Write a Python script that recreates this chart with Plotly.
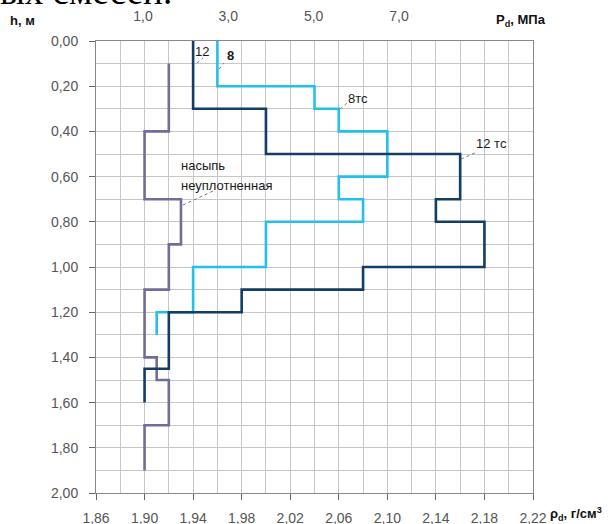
import plotly.graph_objects as go

# ---------------- data ----------------
# depth boundaries (m) and dry density per layer (g/cm3)
fill_top = [0.1, 0.4, 0.7, 0.9, 1.1, 1.4, 1.5, 1.7]
fill_bot = [0.4, 0.7, 0.9, 1.1, 1.4, 1.5, 1.7, 1.9]
fill_rho = [1.92, 1.90, 1.93, 1.92, 1.90, 1.91, 1.92, 1.90]

t8_top = [0.0, 0.2, 0.3, 0.4, 0.6, 0.7, 0.8, 1.0, 1.2]
t8_bot = [0.2, 0.3, 0.4, 0.6, 0.7, 0.8, 1.0, 1.2, 1.3]
t8_rho = [1.96, 2.04, 2.06, 2.10, 2.06, 2.08, 2.00, 1.94, 1.91]

t12_top = [0.0, 0.3, 0.5, 0.7, 0.8, 1.0, 1.1, 1.2, 1.45]
t12_bot = [0.3, 0.5, 0.7, 0.8, 1.0, 1.1, 1.2, 1.45, 1.6]
t12_rho = [1.94, 2.00, 2.16, 2.14, 2.18, 2.08, 1.98, 1.92, 1.90]

h_ticks = [0.0, 0.2, 0.4, 0.6, 0.8, 1.0, 1.2, 1.4, 1.6, 1.8, 2.0]
h_labels = ["0,00", "0,20", "0,40", "0,60", "0,80", "1,00", "1,20", "1,40", "1,60", "1,80", "2,00"]
rho_ticks = [1.86, 1.90, 1.94, 1.98, 2.02, 2.06, 2.10, 2.14, 2.18, 2.22]
rho_labels = ["1,86", "1,90", "1,94", "1,98", "2,02", "2,06", "2,10", "2,14", "2,18", "2,22"]
p_ticks = [1.0, 3.0, 5.0, 7.0]
p_labels = ["1,0", "3,0", "5,0", "7,0"]

# ---------------- layout geometry ----------------
W, H = 615, 524
L, R, T, B = 96, 533, 41, 493


def step_xy(tops, bots, vals):
    xs, ys = [], []
    for t, b, v in zip(tops, bots, vals):
        xs += [v, v]
        ys += [t, b]
    return xs, ys


def px(xpix):
    return (xpix - L) / (R - L)


def py(ypix):
    return (B - ypix) / (B - T)


fig = go.Figure()

series = [
    (fill_top, fill_bot, fill_rho, "#726c98", "насыпь неуплотненная"),
    (t8_top, t8_bot, t8_rho, "#22c0ea", "8 тс"),
    (t12_top, t12_bot, t12_rho, "#123d66", "12 тс"),
]
for tops, bots, vals, col, name in series:
    xs, ys = step_xy(tops, bots, vals)
    fig.add_trace(go.Scatter(x=xs, y=ys, mode="lines", name=name,
                             line=dict(color=col, width=2.6), showlegend=False))

# invisible trace for top pressure axis
fig.add_trace(go.Scatter(x=[p_ticks[0]], y=[0], xaxis="x2", mode="markers",
                         marker=dict(opacity=0), showlegend=False, hoverinfo="skip"))

tickfont = dict(family="Liberation Sans, Arial", size=14, color="#555555")
grid = "#c6c6c6"

fig.update_layout(
    width=W, height=H,
    margin=dict(l=L, r=W - R, t=T, b=H - B, pad=0),
    paper_bgcolor="white", plot_bgcolor="white",
    xaxis=dict(range=[1.86, 2.22], tickvals=rho_ticks, ticktext=rho_labels,
               ticks="outside", ticklen=6, tickcolor="#666", tickwidth=1,
               showgrid=True, gridcolor=grid, gridwidth=1,
               minor=dict(dtick=0.02, tick0=1.86, showgrid=True, gridcolor=grid, gridwidth=1),
               showline=True, linecolor="#888", linewidth=1, mirror=True,
               zeroline=False, tickfont=tickfont, ticklabelstandoff=6, automargin=False),
    yaxis=dict(range=[2.0, 0.0], tickvals=h_ticks, ticktext=h_labels,
               ticks="outside", ticklen=6, tickcolor="#666", tickwidth=1,
               showgrid=True, gridcolor=grid, gridwidth=1,
               minor=dict(dtick=0.1, tick0=0, showgrid=True, gridcolor=grid, gridwidth=1),
               showline=True, linecolor="#888", linewidth=1, mirror=True,
               zeroline=False, tickfont=tickfont, ticklabelstandoff=8, automargin=False),
    xaxis2=dict(overlaying="x", side="top", range=[-0.10, 10.14],
                tickvals=p_ticks, ticktext=p_labels, ticks="outside", ticklen=13,
                tickcolor="rgba(0,0,0,0)", showgrid=False, showline=False,
                zeroline=False, tickfont=tickfont, automargin=False),
)

ann_font = dict(family="Liberation Sans, Arial", size=13, color="#1a1a1a")
bold_font = dict(family="Liberation Sans, Arial", size=13, color="#111111")
annotations = [
    dict(x=px(8), y=py(20), text="<b>h, м</b>", xanchor="left", yanchor="middle", font=bold_font),
    dict(x=px(494), y=py(20), text="<b>P<sub>d</sub>, МПа</b>", xanchor="left", yanchor="middle", font=bold_font),
    dict(x=px(548), y=py(514), text="<b>ρ<sub>d</sub>, г/см<sup>3</sup></b>", xanchor="left", yanchor="middle", font=bold_font),
    dict(x=px(202), y=py(52), text="12", xanchor="center", yanchor="middle", font=ann_font),
    dict(x=px(230), y=py(55), text="<b>8</b>", xanchor="center", yanchor="middle", font=ann_font),
    dict(x=px(358), y=py(98), text="8тс", xanchor="center", yanchor="middle", font=ann_font),
    dict(x=px(491), y=py(143), text="12 тс", xanchor="center", yanchor="middle", font=ann_font),
    dict(x=px(179), y=py(165), text="насыпь", xanchor="left", yanchor="middle", font=ann_font),
    dict(x=px(179), y=py(185), text="неуплотненная", xanchor="left", yanchor="middle", font=ann_font),
]
for a in annotations:
    a.update(xref="paper", yref="paper", showarrow=False)
fig.update_layout(annotations=annotations)

# cropped document text above the chart, drawn as a shape label
fig.add_shape(type="rect", xref="paper", yref="paper",
              x0=px(-3), x1=px(240), y0=py(8), y1=py(-60),
              line=dict(width=0), fillcolor="rgba(0,0,0,0)", layer="above",
              label=dict(text="ых смесей.", textposition="bottom left", padding=0,
                         font=dict(family="Liberation Serif, Times New Roman", size=37, color="#000")))

# leader lines
leaders = [((197, 63), (203, 58)), ((219, 69), (224, 63)), ((340, 109), (347, 103)),
           ((461, 159), (477, 152)), ((183, 205), (213, 191))]
for (x0, y0), (x1, y1) in leaders:
    fig.add_shape(type="line", xref="paper", yref="paper",
                  x0=px(x0), y0=py(y0), x1=px(x1), y1=py(y1),
                  line=dict(color="#777", width=1, dash="dot"))

fig.write_html("out.html", config={"displayModeBar": False},
               post_script="document.body.style.margin='0';document.body.style.overflow='hidden';")
